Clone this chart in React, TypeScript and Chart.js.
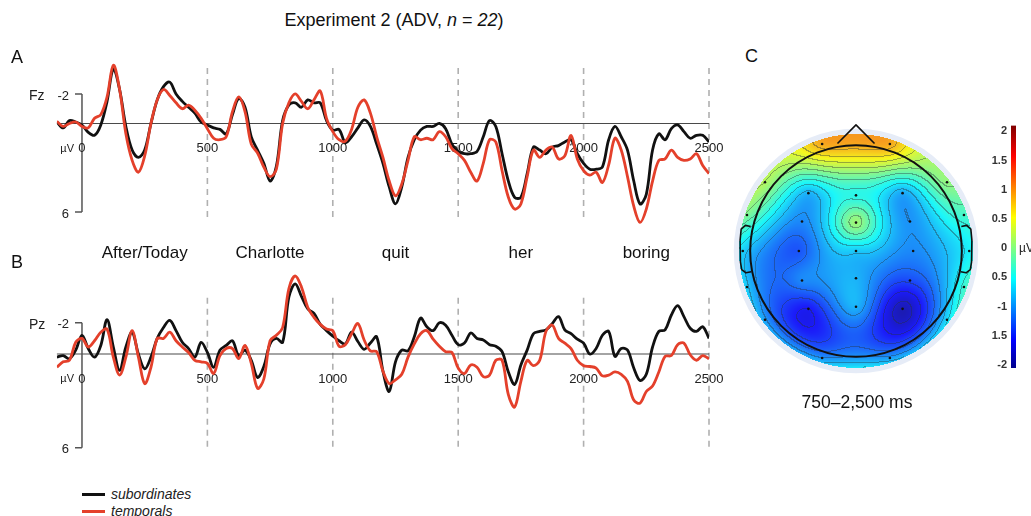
import React, { useEffect, useRef } from "react";
import { Chart, registerables } from "chart.js";
Chart.register(...registerables);

const FONT = "'Liberation Sans', Arial, Helvetica, sans-serif";
Chart.defaults.font.family = FONT;

// ---------- ERP data (ms, µV; negative plotted up) ----------
const timesMs = [
  -100, -75, -50, -25,
  0, 25, 50, 75, 100, 125, 150, 175, 200, 225, 250, 275, 300, 325, 350, 375, 400, 425, 450, 475,
  500, 525, 550, 575, 600, 625, 650, 675, 700, 725, 750, 775, 800, 825, 850, 875, 900, 925, 950, 975,
  1000, 1025, 1050, 1075, 1100, 1125, 1150, 1175, 1200, 1225, 1250, 1275, 1300, 1325, 1350, 1375, 1400, 1425, 1450, 1475,
  1500, 1525, 1550, 1575, 1600, 1625, 1650, 1675, 1700, 1725, 1750, 1775, 1800, 1825, 1850, 1875, 1900, 1925, 1950, 1975,
  2000, 2025, 2050, 2075, 2100, 2125, 2150, 2175, 2200, 2225, 2250, 2275, 2300, 2325, 2350, 2375, 2400, 2425, 2450, 2475, 2500,
];

const fzSubordinates = [
  -0.1, 0.3, -0.2, -0.1,
  0.1, 0.6, 0.8, 0.1, -1.5, -3.7, -2.3, 0.2, 1.8, 2.3, 1.8, 0, -1.6, -2.5, -2.8, -2.0, -1.5, -1.1, -0.7, -0.1,
  0.1, 0.3, 0.4, 0.7, -0.6, -1.7, -1.1, 0.9, 1.8, 2.7, 3.9, 2.9, -0.2, -1.25, -1.4, -1.1, -1.6, -1.4, -1.4, -0.2,
  0.45, 0.4, 1.3, 0.9, 0.3, -0.25, 0.2, 1.4, 2.7, 4.3, 5.45, 4.3, 2.3, 1.1, 0.45, 0.2, 0.2, 0, 0.35, 1.4,
  1.9, 2.05, 2.05, 1.9, 0.9, -0.2, 0.2, 2.05, 3.9, 5.0, 5.0, 3.4, 1.6, 1.8, 2.05, 1.6, 1.5, 1.25, 1.1, 2.05,
  2.7, 3.1, 3.1, 2.95, 1.1, 0.2, 0.9, 1.8, 3.9, 5.45, 4.8, 1.8, 0.7, 1.1, 0.35, 0.1, 0.55, 1.0, 0.8, 0.8, 1.25,
];
const fzTemporals = [
  -0.15, 0.2, 0, -0.1,
  0.2, 0.3, -0.35, -0.6, -1.8, -3.95, -2.3, 0.7, 2.5, 3.3, 2.2, 0, -1.6, -2.3, -1.9, -1.4, -1.0, -1.25, -0.9, -0.35,
  0.35, 1.0, 1.1, 0.9, -0.8, -1.8, -0.8, 1.4, 2.0, 2.95, 3.6, 3.1, 0, -1.4, -2.0, -1.5, -1.0, -1.6, -2.2, -0.35,
  0.55, 1.1, 1.2, 0.4, -1.1, -1.6, -0.7, 0.9, 2.3, 3.9, 4.9, 4.1, 2.5, 0.9, 1.1, 1.0, 1.1, 0.55, 0.9, 1.7,
  2.05, 2.5, 3.3, 3.9, 2.7, 1.1, 1.25, 3.2, 5.0, 5.8, 5.45, 3.6, 1.8, 2.3, 1.8, 1.6, 2.4, 2.2, 0.8, 2.4,
  3.2, 3.5, 3.3, 4.0, 2.8, 1.0, 1.8, 3.6, 5.6, 6.7, 5.8, 3.9, 2.5, 2.4, 1.8, 2.3, 2.5, 2.4, 2.05, 2.85, 3.4,
];
const pzSubordinates = [
  0.2, 0.1, 0.3, -0.25,
  -1.2, -0.35, 0.2, -0.55, -2.2, -0.45, 1.05, -0.45, -1.4, 0, 0.95, 0.2, -1.0, -1.7, -2.15, -1.5, -0.75, -0.35, 0.2, -0.75,
  -0.1, 0.85, -0.25, -0.55, -0.85, 0.1, -0.25, 0.4, 1.5, 0.8, -0.65, -1.0, -0.75, -3.65, -4.5, -3.7, -2.9, -2.6, -1.9, -1.5,
  -1.15, -0.85, -0.65, -1.4, -0.8, -0.3, -0.7, -1.1, 1.1, 2.4, 0.5, -0.25, -0.2, -1.1, -2.3, -1.75, -1.5, -2.0, -1.85, -1.2,
  -0.6, -0.7, -1.35, -1.0, -0.9, -0.6, -0.5, -0.15, 1.15, 1.95, 0.7, -0.25, -1.3, -1.45, -1.55, -1.95, -2.4, -1.55, -1.3, -0.95,
  -0.7, 0, -0.35, -1.2, -1.45, 0.15, -0.35, -0.25, 0.9, 1.7, 1.3, -0.45, -1.45, -1.55, -2.5, -3.1, -2.4, -1.65, -1.45, -1.75, -1.0,
];
const pzTemporals = [
  0.85, 0.5, 0.4, -0.75,
  -1.0, -0.45, -0.85, -1.4, -1.6, 0.2, 1.35, 0.2, -1.5, 0.2, 1.9, 0.85, -1.0, -1.0, -1.4, -0.85, -0.45, -0.1, 0.4, 0.5,
  0.6, 1.25, 0.1, -0.35, -0.35, 0.3, -0.55, 0.6, 2.2, 1.6, -0.85, -1.2, -1.7, -4.2, -5.0, -4.3, -3.0, -2.35, -1.9, -1.6,
  -1.5, -0.5, -0.6, -1.3, -1.95, -0.9, -0.2, -0.15, 1.1, 1.9, 1.65, 1.3, 0.2, -0.65, -1.3, -1.5, -0.95, -0.5, -0.15, -0.1,
  0.9, 1.25, 0.7, 0.85, 1.45, 1.35, 0.4, 0.4, 2.6, 3.4, 1.75, 0.4, 0.75, 0.4, -1.45, -1.85, -1.0, -0.7, -0.35, 0.4,
  0.75, 0.8, 0.9, 1.4, 1.35, 1.15, 1.3, 1.75, 2.95, 3.15, 2.4, 2.05, 1.15, 0.15, 0.1, -0.6, -0.7, 0.05, 0.4, 0.1, 0.3,
];

const xTickValues = [0, 500, 1000, 1500, 2000, 2500];
const yTickValues = [-2, 6];
const yTickLabels = ["-2", "6"];
const words = ["After/Today", "Charlotte", "quit", "her", "boring"];
const wordTimes = [250, 750, 1250, 1750, 2250];

// ---------- Topographic map data (normalized head coords, µV) ----------
const elecNames = ["Fp1", "Fp2", "F7", "F3", "Fz", "F4", "F8", "FT9", "FC5", "FCz", "FC6", "FT10", "T7", "C3", "Cz", "C4", "T8", "TP9", "CP5", "CPz", "CP6", "TP10", "P7", "P3", "Pz", "P4", "P8", "O1", "O2"];
const elecX = [-0.32, 0.32, -0.86, -0.45, 0, 0.44, 0.86, -1.03, -0.51, 0, 0.51, 1.02, -1.07, -0.54, 0, 0.54, 1.07, -1.03, -0.51, 0, 0.51, 1.02, -0.86, -0.45, 0, 0.44, 0.86, -0.32, 0.32];
const elecY = [0.98, 0.98, 0.63, 0.53, 0.51, 0.53, 0.63, 0.33, 0.27, 0.26, 0.27, 0.33, 0, 0, 0, 0, 0, -0.33, -0.27, -0.25, -0.27, -0.33, -0.63, -0.53, -0.51, -0.53, -0.63, -0.98, -0.98];
const elecV = [0.9, 0.9, 0.2, -0.85, -0.45, -0.9, 0.05, -0.05, -1.05, 0.1, -1.0, -0.3, -0.7, -1.3, -0.75, -1.05, -0.55, -0.75, -1.05, -0.85, -1.35, -0.35, -0.95, -1.6, -0.85, -1.9, -0.65, -1.0, -0.95];

const cbTickValues = [2, 1.5, 1, 0.5, 0, -0.5, -1, -1.5, -2];
const cbTickLabels = ["2", "1.5", "1", "0.5", "0", "0.5", "-1", "1.5", "-2"];
const C_MIN = -2.1;
const C_MAX = 2.1;

const RED = "#e4402b";
const BLACK = "#111111";

function jet(t: number): [number, number, number] {
  const c = (v: number) => Math.max(0, Math.min(1, v));
  return [
    Math.round(255 * c(1.5 - Math.abs(4 * t - 3))),
    Math.round(255 * c(1.5 - Math.abs(4 * t - 2))),
    Math.round(255 * c(1.5 - Math.abs(4 * t - 1))),
  ];
}

function green(d: number) {
  return d < 1e-9 ? 0 : d * d * (Math.log(d) - 1);
}

function splineWeights(): number[] {
  const n = elecX.length;
  const A: number[][] = [];
  for (let i = 0; i < n; i++) {
    const row: number[] = [];
    for (let j = 0; j < n; j++) row.push(green(Math.hypot(elecX[i] - elecX[j], elecY[i] - elecY[j])));
    row.push(elecV[i]);
    A.push(row);
  }
  for (let k = 0; k < n; k++) {
    let p = k;
    for (let i = k + 1; i < n; i++) if (Math.abs(A[i][k]) > Math.abs(A[p][k])) p = i;
    const tmp = A[k]; A[k] = A[p]; A[p] = tmp;
    for (let i = k + 1; i < n; i++) {
      const f = A[i][k] / A[k][k];
      for (let j = k; j <= n; j++) A[i][j] -= f * A[k][j];
    }
  }
  const w = new Array(n).fill(0);
  for (let i = n - 1; i >= 0; i--) {
    let s = A[i][n];
    for (let j = i + 1; j < n; j++) s -= A[i][j] * w[j];
    w[i] = s / A[i][i];
  }
  return w;
}

const erpAxesPlugin = {
  id: "erpAxes",
  beforeDatasetsDraw(chart: any, _a: any, o: any) {
    const { ctx } = chart;
    const xs = chart.scales.x, ys = chart.scales.y;
    const z = ys.getPixelForValue(0);
    const x0 = xs.getPixelForValue(0);
    ctx.save();
    ctx.strokeStyle = "#b0b0b0";
    ctx.lineWidth = 1.6;
    ctx.setLineDash([6, 5]);
    xTickValues.forEach((t) => {
      if (t === 0) return;
      const px = xs.getPixelForValue(t);
      ctx.beginPath();
      ctx.moveTo(px, ys.getPixelForValue(o.dashTop));
      ctx.lineTo(px, ys.getPixelForValue(o.dashBottom));
      ctx.stroke();
    });
    ctx.setLineDash([]);
    ctx.strokeStyle = "#4a4a4a";
    ctx.lineWidth = 1.2;
    ctx.beginPath();
    ctx.moveTo(xs.getPixelForValue(timesMs[0]), z);
    ctx.lineTo(xs.getPixelForValue(timesMs[timesMs.length - 1]), z);
    ctx.stroke();
    ctx.strokeStyle = "#555";
    ctx.lineWidth = 1.5;
    ctx.beginPath();
    ctx.moveTo(x0, ys.getPixelForValue(yTickValues[0]));
    ctx.lineTo(x0, ys.getPixelForValue(yTickValues[yTickValues.length - 1]));
    yTickValues.forEach((v) => {
      const py = ys.getPixelForValue(v);
      ctx.moveTo(x0 - 7, py);
      ctx.lineTo(x0, py);
    });
    ctx.stroke();
    ctx.fillStyle = "#222";
    ctx.textBaseline = "middle";
    ctx.font = `13px ${FONT}`;
    ctx.textAlign = "right";
    yTickValues.forEach((v, i) => ctx.fillText(yTickLabels[i], x0 - 13, ys.getPixelForValue(v) + 2));
    ctx.font = `14px ${FONT}`;
    ctx.textAlign = "left";
    ctx.fillText(o.channel, x0 - 53, ys.getPixelForValue(-2) + 2);
    ctx.font = `13px ${FONT}`;
    ctx.textAlign = "center";
    xTickValues.forEach((t) => ctx.fillText(String(t), xs.getPixelForValue(t), z + 25));
    ctx.font = `11px ${FONT}`;
    ctx.textAlign = "right";
    ctx.fillText("µV", x0 - 8, z + 25);
    if (o.words) {
      ctx.font = `17px ${FONT}`;
      ctx.fillStyle = "#111";
      ctx.textAlign = "center";
      words.forEach((w, i) => ctx.fillText(w, xs.getPixelForValue(wordTimes[i]), chart.chartArea.top - 15));
    }
    ctx.restore();
  },
};

const topoPlugin = {
  id: "topo",
  beforeDatasetsDraw(chart: any) {
    const { ctx } = chart;
    const xs = chart.scales.x, ys = chart.scales.y;
    const cx = xs.getPixelForValue(0), cy = ys.getPixelForValue(0);
    const unit = xs.getPixelForValue(1) - cx;
    ctx.save();
    ctx.fillStyle = "#e6ecf7";
    ctx.beginPath();
    ctx.arc(cx, cy, unit * 1.155, 0, Math.PI * 2);
    ctx.fill();
    ctx.restore();

    const w = splineWeights();
    const R = unit * 1.105;
    const x0 = Math.floor(cx - R), y0 = Math.floor(cy - R);
    const size = Math.ceil(2 * R) + 2;
    const f = new Float32Array(size * size);
    const inside = new Uint8Array(size * size);
    for (let j = 0; j < size; j++) {
      for (let i = 0; i < size; i++) {
        const px = x0 + i + 0.5, py = y0 + j + 0.5;
        const dx = px - cx, dy = py - cy;
        if (dx * dx + dy * dy > R * R) continue;
        const u = xs.getValueForPixel(px), v = ys.getValueForPixel(py);
        let s = 0;
        for (let k = 0; k < elecX.length; k++) s += w[k] * green(Math.hypot(u - elecX[k], v - elecY[k]));
        const idx = j * size + i;
        f[idx] = s;
        inside[idx] = 1;
      }
    }
    const off = document.createElement("canvas");
    off.width = size; off.height = size;
    const octx = off.getContext("2d")!;
    const img = octx.createImageData(size, size);
    const step = 0.2;
    const lvl = (v: number) => Math.floor(v / step);
    for (let j = 0; j < size; j++) {
      for (let i = 0; i < size; i++) {
        const idx = j * size + i;
        if (!inside[idx]) continue;
        const t = Math.max(0, Math.min(1, (f[idx] - C_MIN) / (C_MAX - C_MIN)));
        let [r, g, b] = jet(t);
        r = r * 0.86 + 190 * 0.14; g = g * 0.86 + 195 * 0.14; b = b * 0.86 + 215 * 0.14;
        const L = lvl(f[idx]);
        let line = false;
        if (i + 1 < size && inside[idx + 1] && lvl(f[idx + 1]) !== L) line = true;
        if (j + 1 < size && inside[idx + size] && lvl(f[idx + size]) !== L) line = true;
        if (line) {
          r = r * 0.6 + 40 * 0.4; g = g * 0.6 + 50 * 0.4; b = b * 0.6 + 60 * 0.4;
        }
        img.data[idx * 4] = r; img.data[idx * 4 + 1] = g; img.data[idx * 4 + 2] = b; img.data[idx * 4 + 3] = 255;
      }
    }
    octx.putImageData(img, 0, 0);
    ctx.drawImage(off, x0, y0);
  },
  afterDatasetsDraw(chart: any) {
    const { ctx } = chart;
    const xs = chart.scales.x, ys = chart.scales.y;
    const P = (a: number, b: number): [number, number] => [xs.getPixelForValue(a), ys.getPixelForValue(b)];
    const cx = xs.getPixelForValue(0), cy = ys.getPixelForValue(0);
    const unit = xs.getPixelForValue(1) - cx;
    ctx.save();
    ctx.strokeStyle = "#111";
    ctx.lineWidth = 2;
    ctx.lineJoin = "round";
    ctx.beginPath();
    ctx.arc(cx, cy, unit, 0, Math.PI * 2);
    ctx.stroke();
    ctx.lineWidth = 1.6;
    const poly = (pts: [number, number][]) => {
      ctx.beginPath();
      pts.forEach((p, i) => {
        const [a, b] = P(p[0], p[1]);
        if (i === 0) ctx.moveTo(a, b); else ctx.lineTo(a, b);
      });
      ctx.stroke();
    };
    poly([[-0.175, 0.985], [0, 1.155], [0.175, 0.985]]);
    const ear: [number, number][] = [[-0.995, 0.225], [-1.045, 0.235], [-1.085, 0.2], [-1.095, 0.1], [-1.092, -0.1], [-1.08, -0.17], [-1.04, -0.2], [-0.99, -0.19]];
    poly(ear);
    poly(ear.map(([a, b]) => [-a, b] as [number, number]));
    ctx.restore();
  },
};

const cbPlugin = {
  id: "cbUnit",
  afterDraw(chart: any) {
    const { ctx, chartArea } = chart;
    ctx.save();
    ctx.font = `12px ${FONT}`;
    ctx.fillStyle = "#222";
    ctx.textAlign = "left";
    ctx.textBaseline = "middle";
    ctx.fillText("µV", chartArea.right + 3, chart.scales.y.getPixelForValue(0));
    ctx.restore();
  },
};

function makeErp(canvas: HTMLCanvasElement, sub: number[], temp: number[], cfg: any) {
  return new Chart(canvas, {
    type: "line",
    data: {
      datasets: [
        {
          label: "subordinates",
          data: timesMs.map((t, i) => ({ x: t, y: sub[i] })),
          borderColor: BLACK,
          borderWidth: 2.8,
          pointRadius: 0,
          tension: 0.35,
          borderJoinStyle: "round",
          order: 2,
        },
        {
          label: "temporals",
          data: timesMs.map((t, i) => ({ x: t, y: temp[i] })),
          borderColor: RED,
          borderWidth: 2.8,
          pointRadius: 0,
          tension: 0.35,
          borderJoinStyle: "round",
          order: 1,
        },
      ],
    } as any,
    options: {
      responsive: false,
      animation: false,
      events: [],
      layout: { padding: cfg.pad },
      scales: {
        x: { type: "linear", min: -100, max: 2500, display: false },
        y: { type: "linear", min: cfg.yMin, max: cfg.yMax, reverse: true, display: false },
      },
      plugins: {
        legend: { display: false },
        tooltip: { enabled: false },
        erpAxes: cfg.axes,
      } as any,
    },
    plugins: [erpAxesPlugin as any],
  });
}

export default function App() {
  const fzRef = useRef<HTMLCanvasElement>(null);
  const pzRef = useRef<HTMLCanvasElement>(null);
  const topoRef = useRef<HTMLCanvasElement>(null);
  const cbRef = useRef<HTMLCanvasElement>(null);

  useEffect(() => {
    const charts: Chart[] = [];
    charts.push(
      makeErp(fzRef.current!, fzSubordinates, fzTemporals, {
        yMin: -4.2,
        yMax: 7.0,
        pad: { left: 56.9, right: 21, top: 21.5, bottom: 13.2 },
        axes: { channel: "Fz", dashTop: -3.76, dashBottom: 6.4, words: false },
      })
    );
    charts.push(
      makeErp(pzRef.current!, pzSubordinates, pzTemporals, {
        yMin: -5.5,
        yMax: 6.6,
        pad: { left: 56.9, right: 21, top: 28.2, bottom: 13 },
        axes: { channel: "Pz", dashTop: -3.6, dashBottom: 5.96, words: true },
      })
    );
    charts.push(
      new Chart(topoRef.current!, {
        type: "scatter",
        data: {
          datasets: [
            {
              label: "electrodes",
              data: elecX.map((x, i) => ({ x, y: elecY[i], name: elecNames[i] })),
              pointRadius: 1.3,
              pointBackgroundColor: "#111",
              pointBorderWidth: 0,
            },
          ],
        } as any,
        options: {
          responsive: false,
          animation: false,
          events: [],
          layout: { padding: { top: 5, bottom: 5, left: 0, right: 0 } },
          scales: {
            x: { type: "linear", min: -1.2, max: 1.2, display: false },
            y: { type: "linear", min: -1.2, max: 1.2, display: false },
          },
          plugins: { legend: { display: false }, tooltip: { enabled: false } },
        },
        plugins: [topoPlugin as any],
      })
    );
    charts.push(
      new Chart(cbRef.current!, {
        type: "bar",
        data: {
          labels: ["µV"],
          datasets: [
            {
              data: [[-2.05, 2.1]],
              borderWidth: 0,
              barPercentage: 1,
              categoryPercentage: 1,
              backgroundColor: (c: any) => {
                const ch = c.chart;
                if (!ch.chartArea) return "#0000ff";
                const ys = ch.scales.y;
                const g = ch.ctx.createLinearGradient(0, ys.getPixelForValue(C_MIN), 0, ys.getPixelForValue(C_MAX));
                for (let i = 0; i <= 40; i++) {
                  const [r, gg, b] = jet(i / 40);
                  g.addColorStop(i / 40, `rgb(${r},${gg},${b})`);
                }
                return g;
              },
            },
          ],
        } as any,
        options: {
          responsive: false,
          animation: false,
          events: [],
          layout: { padding: { top: 9, bottom: 17, left: 0, right: 15 } },
          scales: {
            x: { display: false },
            y: {
              min: -2.05,
              max: 2.1,
              position: "left",
              grid: { display: false, drawTicks: false },
              border: { display: false },
              afterFit: (s: any) => { s.width = 36; },
              afterBuildTicks: (s: any) => { s.ticks = [...cbTickValues].reverse().map((v) => ({ value: v })); },
              ticks: {
                padding: 4,
                color: "#333",
                font: { size: 11, weight: "bold" },
                callback: (v: any) => {
                  const k = cbTickValues.indexOf(Number(v));
                  return k >= 0 ? cbTickLabels[k] : "";
                },
              },
            },
          },
          plugins: { legend: { display: false }, tooltip: { enabled: false } },
        } as any,
        plugins: [cbPlugin as any],
      })
    );
    return () => charts.forEach((c) => c.destroy());
  }, []);

  const abs = (l: number, t: number, extra: any = {}) => ({
    position: "absolute" as const,
    left: l,
    top: t,
    whiteSpace: "nowrap" as const,
    lineHeight: 1,
    fontFamily: FONT,
    color: "#111",
    ...extra,
  });

  return (
    <div style={{ position: "absolute", left: 0, top: 0, width: 1031, height: 516, background: "#fff", overflow: "hidden", fontFamily: FONT }}>
      <canvas ref={fzRef} width={730} height={200} style={{ position: "absolute", left: 0, top: 40, width: 730, height: 200 }} />
      <canvas ref={pzRef} width={730} height={230} style={{ position: "absolute", left: 0, top: 240, width: 730, height: 230 }} />
      <canvas ref={topoRef} width={262} height={272} style={{ position: "absolute", left: 725, top: 115, width: 262, height: 272 }} />
      <canvas ref={cbRef} width={56} height={270} style={{ position: "absolute", left: 975, top: 115, width: 56, height: 270 }} />

      <div style={abs(394, 20, { transform: "translate(-50%,-50%)", fontSize: 18 })}>
        Experiment 2 (ADV, <i>n</i> = <i>22</i>)
      </div>
      <div style={abs(11, 57, { transform: "translateY(-50%)", fontSize: 18 })}>A</div>
      <div style={abs(11, 262, { transform: "translateY(-50%)", fontSize: 18 })}>B</div>
      <div style={abs(745, 56, { transform: "translateY(-50%)", fontSize: 18 })}>C</div>
      <div style={abs(857, 403, { transform: "translate(-50%,-50%)", fontSize: 17.5 })}>750–2,500 ms</div>

      <div style={{ position: "absolute", left: 82, top: 493, width: 23, height: 3, background: BLACK }} />
      <div style={abs(111, 494, { transform: "translateY(-50%)", fontSize: 14, fontStyle: "italic", color: "#222" })}>subordinates</div>
      <div style={{ position: "absolute", left: 82, top: 510, width: 23, height: 3, background: RED }} />
      <div style={abs(111, 511, { transform: "translateY(-50%)", fontSize: 14, fontStyle: "italic", color: "#222" })}>temporals</div>
    </div>
  );
}
